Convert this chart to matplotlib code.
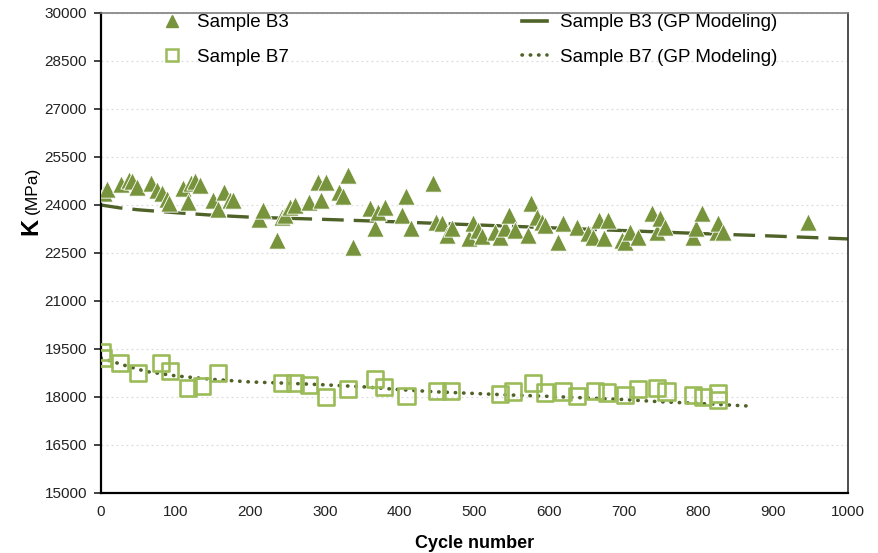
import matplotlib
matplotlib.use("Agg")
import matplotlib.pyplot as plt
from matplotlib.lines import Line2D

plt.rcParams['font.family'] = ['Liberation Sans', 'DejaVu Sans']

# ---- data ----
b3_cycles = [4, 8, 27, 37, 42, 48, 67, 75, 81, 88, 91, 110, 116, 121, 126, 133, 150, 157, 164, 173, 177,
             212, 217, 235, 242, 246, 253, 260, 278, 291, 295, 301, 318, 324, 331, 337, 360, 367, 371, 380,
             403, 408, 415, 444, 449, 456, 463, 470, 492, 498, 505, 510, 527, 534, 541, 546, 554, 571, 576,
             583, 590, 594, 612, 618, 637, 652, 659, 666, 673, 679, 697, 702, 708, 719, 737, 744, 748, 755,
             793, 797, 804, 824, 826, 833, 947]
b3_k = [24380, 24500, 24650, 24780, 24760, 24570, 24680, 24470, 24370, 24180, 24070, 24520, 24100, 24700,
        24760, 24620, 24160, 23860, 24420, 24160, 24160,
        23550, 23840, 22900, 23640, 23690, 23950, 24000, 24100, 24730, 24160, 24730, 24420, 24280, 24940,
        22700, 23900, 23270, 23790, 23950,
        23690, 24280, 23270, 24700, 23480, 23430, 23060, 23270, 22960, 23430, 23220, 23030, 23170, 23010,
        23270, 23690, 23220, 23060, 24050,
        23640, 23480, 23380, 22850, 23430, 23320, 23120, 23010, 23530, 22960, 23530, 22910, 22850, 23170,
        23010, 23760, 23170, 23580, 23320,
        23010, 23270, 23760, 23170, 23430, 23170, 23480]

b7_cycles = [1, 3, 26, 50, 80, 92, 116, 135, 157, 242, 260, 278, 301, 331, 367, 379, 409, 450, 468, 534,
             552, 578, 594, 618, 637, 661, 677, 702, 719, 744, 757, 792, 806, 826, 826]
b7_k = [19410, 19210, 19050, 18740, 19050, 18820, 18270, 18340, 18740, 18450, 18450, 18380, 17990, 18240,
        18550, 18320, 18030, 18200, 18200, 18090, 18170, 18430, 18140, 18170, 18030, 18200, 18140, 18060,
        18250, 18270, 18170, 18060, 18010, 18110, 17910]

gp_b3_cycles = [0, 25, 50, 100, 150, 200, 300, 400, 500, 600, 700, 800, 900, 1000]
gp_b3_k = [24000, 23910, 23850, 23760, 23680, 23620, 23550, 23470, 23380, 23290, 23200, 23110, 23030, 22940]

gp_b7_cycles = [0, 30, 60, 100, 150, 200, 250, 300, 350, 400, 450, 500, 550, 600, 650, 700, 750, 800, 865]
gp_b7_k = [19220, 19000, 18800, 18660, 18550, 18470, 18430, 18380, 18320, 18230, 18160, 18110, 18060,
           18020, 17970, 17920, 17850, 17800, 17720]

x_ticks = list(range(0, 1001, 100))
y_ticks = list(range(15000, 30001, 1500))

# ---- styles ----
tri_color = '#77933C'
sq_color = '#9BBB59'
line_color = '#4F6228'
dot_style = (0, (0.1, 2.2))

fig = plt.figure(figsize=(8.79, 5.53), dpi=100)
ax = fig.add_axes([101/879, 60/553, 747/879, 480/553])

ax.plot(gp_b3_cycles, gp_b3_k, color=line_color, lw=2.4, linestyle=(0, (6.5, 3)), zorder=2)
ax.plot(gp_b7_cycles, gp_b7_k, color=line_color, lw=2.6, linestyle=dot_style,
        dash_capstyle='round', zorder=2)
ax.scatter(b3_cycles, b3_k, marker='^', s=155, color=tri_color, edgecolors='white',
           linewidths=0.6, zorder=3)
ax.scatter(b7_cycles, b7_k, marker='s', s=135, facecolors='none', edgecolors=sq_color,
           linewidths=1.9, zorder=3)

ax.set_xlim(0, 1000)
ax.set_ylim(15000, 30000)
ax.set_xticks(x_ticks)
ax.set_yticks(y_ticks)
ax.tick_params(axis='both', labelsize=11, colors='#222222', length=5, width=1.2, direction='out')
ax.tick_params(axis='x', length=0, pad=9)
ax.tick_params(axis='y', pad=5)

ax.yaxis.grid(True, color='#dcdcdc', linestyle=(0, (1.5, 2.5)), linewidth=0.9)
ax.set_axisbelow(True)
ax.spines['left'].set_linewidth(1.6)
ax.spines['bottom'].set_linewidth(1.6)
ax.spines['left'].set_color('black')
ax.spines['bottom'].set_color('black')
ax.spines['top'].set_color('#7f7f7f')
ax.spines['right'].set_color('#303030')
ax.spines['top'].set_linewidth(1.2)
ax.spines['right'].set_linewidth(1.2)

ax.set_xlabel('Cycle number', fontsize=13, fontweight='bold', labelpad=11)

fig.text(31/879, 1 - 226/553, 'K', rotation=90, fontsize=17, fontweight='bold',
         ha='center', va='center')
fig.text(32/879, 1 - 190/553, '(MPa)', rotation=90, fontsize=12.5,
         ha='center', va='center')

handles = [
    Line2D([], [], marker='^', linestyle='none', color=tri_color, markersize=8),
    Line2D([], [], marker='s', linestyle='none', markerfacecolor='none', markeredgecolor=sq_color,
           markeredgewidth=1.8, markersize=8.5),
    Line2D([], [], color=line_color, lw=2.6),
    Line2D([], [], color=line_color, lw=2.6, linestyle=dot_style, dash_capstyle='round'),
]
labels = ['Sample B3', 'Sample B7', 'Sample B3 (GP Modeling)', 'Sample B7 (GP Modeling)']
fig.legend(handles, labels, ncol=2, frameon=False, fontsize=13.5,
           loc='upper left', bbox_to_anchor=(159/879, 1 - 14/553),
           borderaxespad=0, borderpad=0,
           columnspacing=12.4, labelspacing=0.92, handlelength=1.35, handletextpad=0.7)

fig.savefig('out.png', dpi=100)
